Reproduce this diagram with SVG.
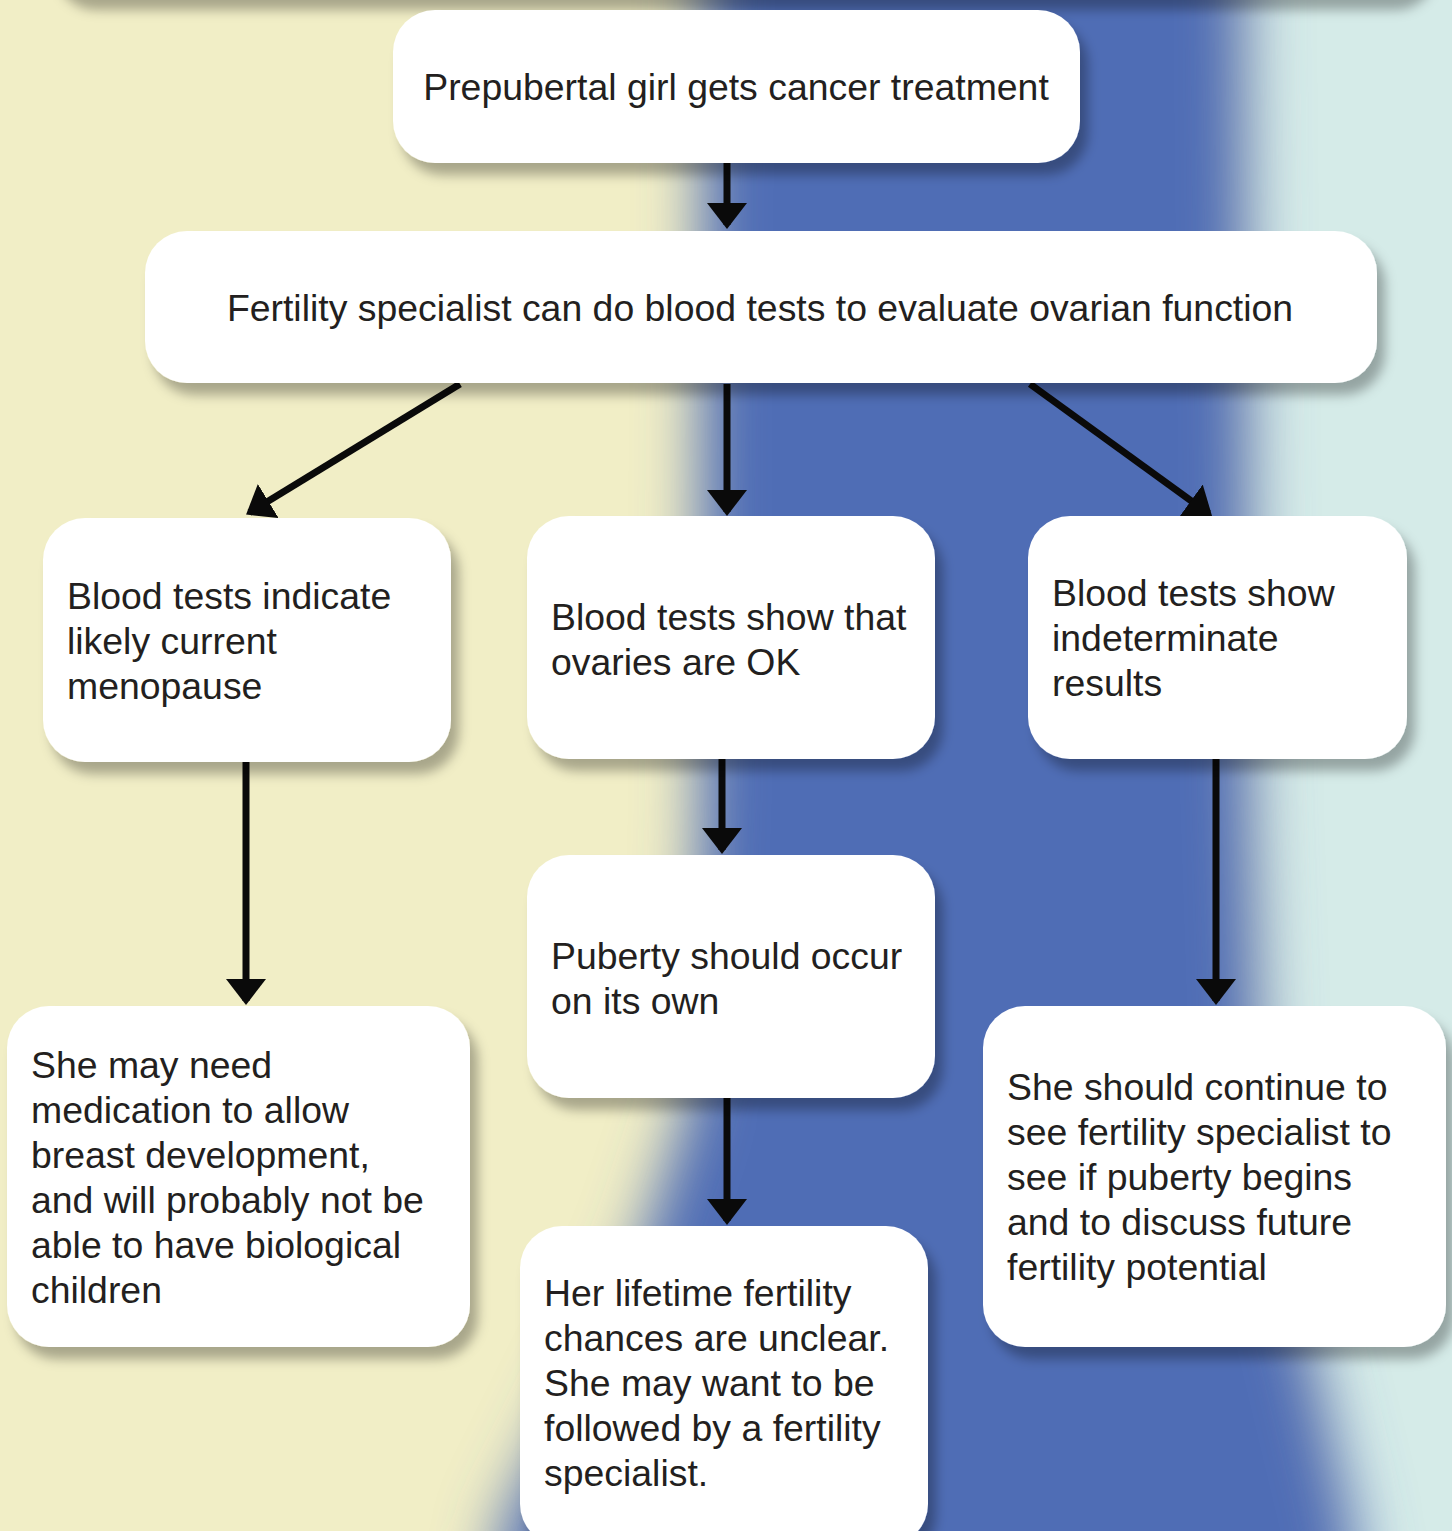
<svg xmlns="http://www.w3.org/2000/svg" width="1452" height="1531" viewBox="0 0 1452 1531">
<defs>
<style>
.box{fill:#ffffff;filter:url(#shadow);}
.t{font-family:"Liberation Sans",Arial,sans-serif;font-size:37.4px;fill:#231F20;}
.c{fill:none;stroke:#0a0a0a;stroke-width:7;marker-end:url(#arrow);}
</style>
<filter id="shadow" x="-20%" y="-20%" width="140%" height="150%">
<feDropShadow dx="8" dy="12" stdDeviation="6" flood-color="#000000" flood-opacity="0.3"/>
</filter>
<filter id="blur" filterUnits="userSpaceOnUse" x="-300" y="-300" width="2100" height="2200">
<feGaussianBlur stdDeviation="30"/>
</filter>
<marker id="arrow" markerUnits="userSpaceOnUse" markerWidth="27" markerHeight="41" viewBox="0 0 27 41" refX="22" refY="20" orient="auto">
<path d="M0,0 L26,20 L0,40 Z" fill="#0a0a0a"/>
</marker>
</defs>

<g id="background">
<rect x="0" y="0" width="1452" height="1531" fill="#F1EEC6"/>
<polygon points="1200,-300 1800,-300 1800,1900 1300,1900 1330,1531 1290,1300 1255,1100 1245,800 1240,500 1235,0" fill="#D5EBE8" filter="url(#blur)"/>
<polygon points="705,-300 1245,-300 1245,0 1250,500 1252,800 1262,1100 1300,1300 1355,1531 1370,1900 470,1900 500,1531 565,1400 640,1250 690,1100 700,800 700,500 703,0" fill="#4F6DB5" filter="url(#blur)"/>
<rect x="48" y="-200" width="1380" height="198" rx="40" class="box"/>
</g>

<g id="connectors">
<line class="c" x1="727" y1="163" x2="727" y2="225"/>
<line class="c" x1="460" y1="384" x2="249.5" y2="512.5"/>
<line class="c" x1="727" y1="384" x2="727" y2="512"/>
<line class="c" x1="1030" y1="384" x2="1208.8" y2="513.6"/>
<line class="c" x1="246" y1="762" x2="246" y2="1001"/>
<line class="c" x1="722" y1="759" x2="722" y2="850"/>
<line class="c" x1="1216" y1="759" x2="1216" y2="1001"/>
<line class="c" x1="727" y1="1098" x2="727" y2="1221"/>
</g>

<g id="node1">
<rect class="box" x="393" y="10" width="687" height="153" rx="42"/>
<text class="t" x="736" y="100" text-anchor="middle">Prepubertal girl gets cancer treatment</text>
</g>
<g id="node2">
<rect class="box" x="145" y="231" width="1232" height="152" rx="42"/>
<text class="t" x="760" y="321" text-anchor="middle">Fertility specialist can do blood tests to evaluate ovarian function</text>
</g>
<g id="node3">
<rect class="box" x="43" y="518" width="408" height="244" rx="42"/>
<text class="t" x="67" y="609">Blood tests indicate</text>
<text class="t" x="67" y="654">likely current</text>
<text class="t" x="67" y="699">menopause</text>
</g>
<g id="node4">
<rect class="box" x="527" y="516" width="408" height="243" rx="42"/>
<text class="t" x="551" y="630">Blood tests show that</text>
<text class="t" x="551" y="675">ovaries are OK</text>
</g>
<g id="node5">
<rect class="box" x="1028" y="516" width="379" height="243" rx="42"/>
<text class="t" x="1052" y="606">Blood tests show</text>
<text class="t" x="1052" y="651">indeterminate</text>
<text class="t" x="1052" y="696">results</text>
</g>
<g id="node6">
<rect class="box" x="7" y="1006" width="463" height="341" rx="42"/>
<text class="t" x="31" y="1078">She may need</text>
<text class="t" x="31" y="1123">medication to allow</text>
<text class="t" x="31" y="1168">breast development,</text>
<text class="t" x="31" y="1213">and will probably not be</text>
<text class="t" x="31" y="1258">able to have biological</text>
<text class="t" x="31" y="1303">children</text>
</g>
<g id="node7">
<rect class="box" x="527" y="855" width="408" height="243" rx="42"/>
<text class="t" x="551" y="969">Puberty should occur</text>
<text class="t" x="551" y="1014">on its own</text>
</g>
<g id="node8">
<rect class="box" x="983" y="1006" width="463" height="341" rx="42"/>
<text class="t" x="1007" y="1100">She should continue to</text>
<text class="t" x="1007" y="1145">see fertility specialist to</text>
<text class="t" x="1007" y="1190">see if puberty begins</text>
<text class="t" x="1007" y="1235">and to discuss future</text>
<text class="t" x="1007" y="1280">fertility potential</text>
</g>
<g id="node9">
<rect class="box" x="520" y="1226" width="408" height="320" rx="42"/>
<text class="t" x="544" y="1306">Her lifetime fertility</text>
<text class="t" x="544" y="1351">chances are unclear.</text>
<text class="t" x="544" y="1396">She may want to be</text>
<text class="t" x="544" y="1441">followed by a fertility</text>
<text class="t" x="544" y="1486">specialist.</text>
</g>
</svg>
